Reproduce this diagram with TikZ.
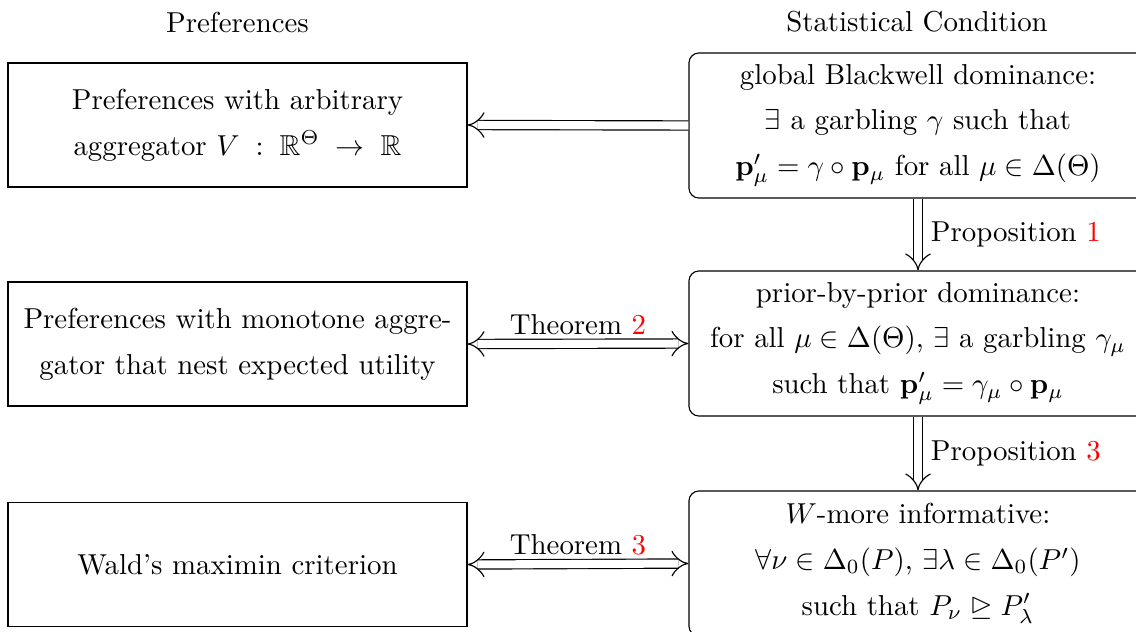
\documentclass[tikz,border=0pt]{standalone}
\usepackage{amsmath,amssymb}
\usepackage{xcolor}
\usetikzlibrary{arrows.meta}
\begin{document}
\begin{tikzpicture}[x=0.3466pt,y=-0.3466pt,
  every node/.style={font=\fontsize{10}{15.9}\selectfont},
  lbox/.style={draw, align=center, minimum width=159.1pt, minimum height=43pt, inner sep=0pt},
  rbox/.style={draw, rounded corners=3.5pt, align=center, minimum width=158.8pt, minimum height=50.3pt, inner sep=0pt},
  impl/.style={double, double distance=2.8pt, -{Implies}},
  bimpl/.style={double, double distance=2.8pt, {Implies}-{Implies}},
  vlbl/.style={inner sep=0pt, xshift=4.3pt},
  hlbl/.style={inner sep=0pt, yshift=3pt}]
\useasboundingbox (0,0) rectangle (1136,631);
\clip (0,0) rectangle (1136,631);
\node (t1) at (237.5,22) {Preferences};
\node (t2) at (917,22) {Statistical Condition};
\node[lbox] (L1) at (237.5,125) {Preferences with arbitrary\\ aggregator $V\;:\;\mathbb{R}^{\Theta}\;\to\;\mathbb{R}$};
\node[lbox] (L2) at (237.5,344) {Preferences with monotone aggre-\\gator that nest expected utility};
\node[lbox] (L3) at (237.5,564.5) {Wald's maximin criterion};
\node[rbox] (R1) at (918,125.5) {global Blackwell dominance:\\ $\exists$ a garbling $\gamma$ such that\\ $\mathbf{p}'_\mu=\gamma\circ\mathbf{p}_\mu$ for all $\mu\in\Delta(\Theta)$};
\node[rbox] (R2) at (918,343.5) {prior-by-prior dominance:\\ for all $\mu\in\Delta(\Theta)$, $\exists$ a garbling $\gamma_\mu$\\ such that $\mathbf{p}'_\mu=\gamma_\mu\circ\mathbf{p}_\mu$};
\node[rbox] (R3) at (918,563.5) {$W$-more informative:\\ $\forall\nu\in\Delta_0(P)$, $\exists\lambda\in\Delta_0(P')$\\ such that $P_\nu\trianglerighteq P'_\lambda$};
\draw[impl] (R1.west) -- (L1.east);
\draw[impl] (R1.south) -- node[right, vlbl] {Proposition \textcolor{red}{1}} (R2.north);
\draw[impl] (R2.south) -- node[right, vlbl] {Proposition \textcolor{red}{3}} (R3.north);
\draw[bimpl] (L2.east) -- node[above, hlbl] {Theorem \textcolor{red}{2}} (R2.west);
\draw[bimpl] (L3.east) -- node[above, hlbl] {Theorem \textcolor{red}{3}} (R3.west);
\end{tikzpicture}
\end{document}
